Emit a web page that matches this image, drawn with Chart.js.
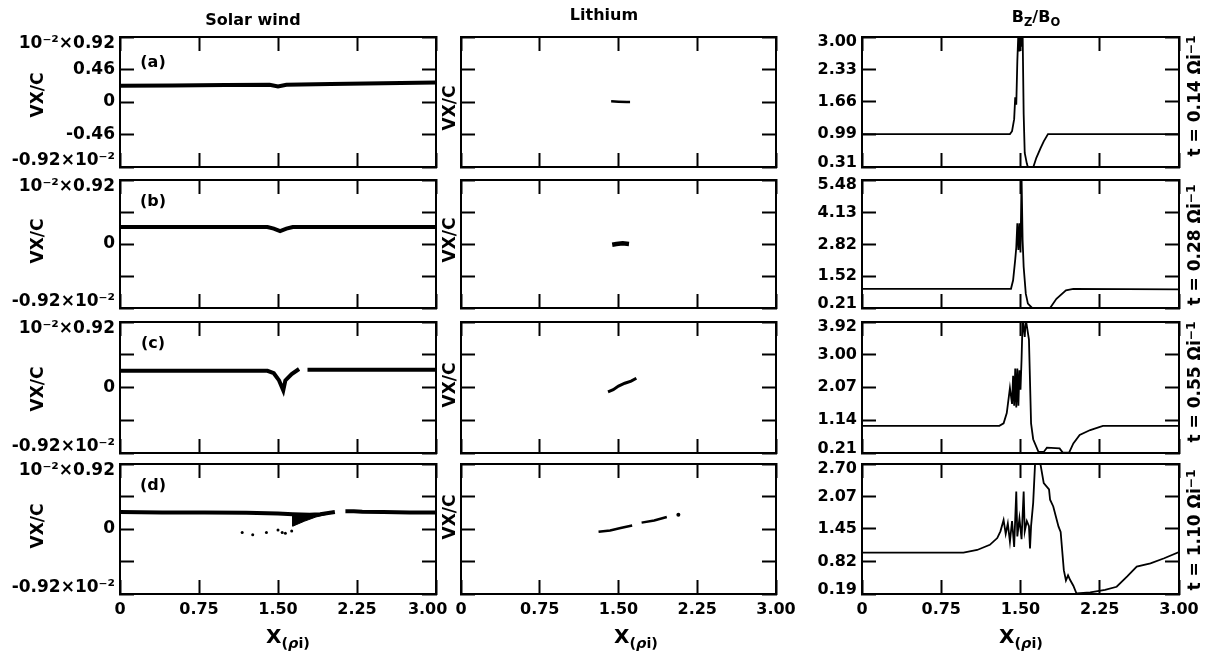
<!DOCTYPE html>
<html>
<head>
<meta charset="utf-8">
<script src="https://cdn.jsdelivr.net/npm/chart.js@4.4.1/dist/chart.umd.min.js"></script>
<style>
  body { margin: 0; background: #fff; }
  #fig { position: relative; width: 1207px; height: 658px; overflow: hidden;
         font-family: "DejaVu Sans", sans-serif; font-weight: bold; color: #000; background: #fff; }
  #fig canvas { position: absolute; }
  .txt { position: absolute; white-space: nowrap; line-height: 1; }
  .ctr { transform: translate(-50%, -50%); }
  .rot { transform: translate(-50%, -50%) rotate(-90deg); }
  sub { font-size: 72%; vertical-align: baseline; position: relative; top: 0.35em; }
  sup { font-size: 72%; vertical-align: baseline; position: relative; top: -0.45em; }
</style>
</head>
<body>
<div id="fig"></div>
<script>
// axis ticks
const xTicks = [0, 0.75, 1.5, 2.25, 3.0];
const xTickLabels = ["0", "0.75", "1.50", "2.25", "3.00"];
const vTicks = [-0.92, -0.46, 0, 0.46, 0.92];
const bTicksA = [0.31, 0.99, 1.66, 2.33, 3.00];
const bTicksB = [0.21, 1.52, 2.82, 4.13, 5.48];
const bTicksC = [0.21, 1.14, 2.07, 3.00, 3.92];
const bTicksD = [0.19, 0.82, 1.45, 2.07, 2.70];
const rowTags = ["(a)", "(b)", "(c)", "(d)"];
const times = ["0.14", "0.28", "0.55", "1.10"];

// solar wind vx/c (units of 1e-2), [x, y]
const windA = [[0, 0.23], [0.5, 0.235], [1.0, 0.24], [1.42, 0.245], [1.5, 0.22], [1.58, 0.245],
  [2.0, 0.255], [2.5, 0.265], [3.0, 0.275]];
const windB = [[0, 0.245], [0.5, 0.245], [1.0, 0.245], [1.40, 0.245], [1.46, 0.22], [1.52, 0.185],
  [1.58, 0.22], [1.64, 0.245], [2.0, 0.245], [2.5, 0.245], [3.0, 0.245]];
const windC = [[0, 0.235], [0.5, 0.235], [1.0, 0.235], [1.40, 0.235], [1.46, 0.20], [1.51, 0.10],
  [1.55, -0.04], [1.57, 0.10], [1.63, 0.19], [1.70, 0.26], [1.74, null], [1.78, 0.25],
  [2.2, 0.25], [2.6, 0.25], [3.0, 0.25]];
const windD = [[0, 0.24], [0.4, 0.235], [0.8, 0.235], [1.2, 0.23], [1.5, 0.22], [1.64, 0.21],
  [1.80, 0.20], [1.90, 0.21], [2.04, 0.24], [2.09, null], [2.14, 0.25], [2.22, 0.25],
  [2.30, 0.245], [2.5, 0.24], [2.75, 0.235], [3.0, 0.235]];
const windDWedge = [[1.64, 0.22], [1.64, 0.04], [1.75, 0.11], [1.86, 0.17], [1.97, 0.21], [1.64, 0.22]];
const windDDots = [[1.16, -0.05], [1.26, -0.08], [1.39, -0.05], [1.50, -0.015], [1.54, -0.05],
  [1.57, -0.06], [1.63, -0.03]];

// lithium vx/c
const liA = [[1.43, 0.01], [1.50, 0.005], [1.58, 0.0], [1.61, 0.0]];
const liB = [[1.44, -0.01], [1.48, 0.0], [1.54, 0.01], [1.60, 0.0]];
const liC = [[1.40, -0.06], [1.45, -0.03], [1.50, 0.02], [1.56, 0.06], [1.62, 0.09], [1.67, 0.13]];
const liD = [[1.31, -0.04], [1.42, -0.02], [1.52, 0.015], [1.63, 0.05], [1.67, null], [1.72, 0.09],
  [1.84, 0.12], [1.96, 0.17]];
const liDDot = [[2.07, 0.20]];

// Bz/Bo
const bzA = [[0, 0.99], [1.40, 0.99], [1.42, 1.05], [1.44, 1.3], [1.45, 1.75], [1.46, 1.6], [1.47, 2.5],
  [1.48, 3.1], [1.49, 2.7], [1.50, 3.1], [1.51, 2.8], [1.52, 3.1], [1.53, 1.4], [1.54, 0.6],
  [1.56, 0.38], [1.57, 0.31], [1.62, 0.30], [1.65, 0.50], [1.69, 0.70], [1.72, 0.84], [1.76, 0.99],
  [3.0, 0.99]];
const bzB = [[0, 1.0], [1.41, 1.0], [1.43, 1.35], [1.45, 2.2], [1.46, 2.7], [1.47, 3.7], [1.48, 2.6],
  [1.49, 3.7], [1.50, 2.5], [1.51, 5.6], [1.52, 3.0], [1.53, 1.9], [1.55, 0.8], [1.57, 0.39],
  [1.61, 0.21], [1.78, 0.21], [1.84, 0.59], [1.93, 0.94], [2.0, 1.0], [3.0, 0.98]];
const bzC = [[0, 0.98], [1.30, 0.98], [1.34, 1.05], [1.37, 1.34], [1.40, 2.05], [1.42, 1.6], [1.43, 2.4],
  [1.44, 1.55], [1.45, 2.6], [1.46, 1.5], [1.47, 2.6], [1.48, 1.55], [1.49, 2.55], [1.50, 2.0],
  [1.51, 2.86], [1.52, 4.0], [1.54, 3.5], [1.55, 4.0], [1.58, 3.42], [1.60, 1.05], [1.62, 0.6],
  [1.67, 0.24], [1.72, 0.24], [1.75, 0.36], [1.87, 0.34], [1.90, 0.22], [1.96, 0.22], [2.0, 0.48],
  [2.06, 0.72], [2.16, 0.86], [2.28, 0.98], [3.0, 0.98]];
const bzD = [[0, 0.99], [0.96, 0.99], [1.09, 1.04], [1.21, 1.14], [1.28, 1.27], [1.31, 1.40],
  [1.34, 1.62], [1.36, 1.35], [1.38, 1.55], [1.40, 1.20], [1.42, 1.60], [1.44, 1.10], [1.46, 2.17],
  [1.47, 1.30], [1.49, 1.65], [1.51, 1.25], [1.53, 2.17], [1.54, 1.40], [1.56, 1.60], [1.58, 1.50],
  [1.59, 1.07], [1.60, 1.50], [1.62, 1.95], [1.64, 2.8], [1.68, 2.8], [1.72, 2.33], [1.77, 2.21],
  [1.78, 2.01], [1.81, 1.88], [1.86, 1.49], [1.88, 1.39], [1.91, 0.65], [1.93, 0.45], [1.95, 0.55],
  [1.97, 0.46], [2.00, 0.35], [2.03, 0.20], [2.16, 0.22], [2.30, 0.27], [2.41, 0.33], [2.51, 0.53],
  [2.60, 0.72], [2.73, 0.78], [2.86, 0.88], [3.0, 1.0]];

// layout of the panels (pixels)
const colX = [120, 461, 862];
const colW = [316, 315, 317];
const rowY = [37, 180, 322, 464];
const rowH = [130, 128, 131, 130];
const L = [120, 40, 60], R = 60, T = 45, B = 50;

const fig = document.getElementById("fig");
const FONT = { family: '"DejaVu Sans", sans-serif', weight: "bold", size: 16 };

const pts = arr => arr.map(([x, y]) => ({ x, y }));
const line = (arr, w) => ({ data: pts(arr), showLine: true, borderColor: "#000", borderWidth: w,
  pointRadius: 0, fill: false, tension: 0 });
const dots = (arr, r) => ({ data: pts(arr), showLine: false, pointRadius: r, borderWidth: 0,
  backgroundColor: "#000" });

function scale(pos, min, max, ticks, size, labels, pad, font) {
  const horiz = pos === "top" || pos === "bottom";
  return {
    type: "linear", position: pos, min, max,
    afterBuildTicks: ax => { ax.ticks = ticks.map(v => ({ value: v })); },
    afterFit: ax => { if (horiz) ax.height = size; else ax.width = size; },
    grid: { drawOnChartArea: false, drawTicks: true, tickLength: -14, tickWidth: 2, tickColor: "#000" },
    border: { display: true, color: "#000", width: 2 },
    ticks: {
      display: !!labels, autoSkip: false, maxRotation: 0, minRotation: 0,
      padding: pad || 0, color: "#000", font: font || FONT,
      callback: (v, i) => labels ? labels[i] : ""
    }
  };
}

function addPanel(c, r, datasets, yMin, yMax, yTicks, yLabels, yFont) {
  const l = L[c];
  const w = colW[c] + l + R, h = rowH[r] + T + B;
  const cv = document.createElement("canvas");
  cv.width = w; cv.height = h;
  cv.style.left = (colX[c] - l) + "px";
  cv.style.top = (rowY[r] - T) + "px";
  cv.style.width = w + "px"; cv.style.height = h + "px";
  fig.appendChild(cv);
  let xl = null;
  if (r === 3) xl = xTickLabels.map((s, i) => (c === 0 && i === 4) ? s + "   " : s);
  new Chart(cv, {
    type: "scatter",
    data: { datasets },
    options: {
      responsive: false, animation: false, devicePixelRatio: 1, events: [],
      layout: { padding: 0 },
      plugins: { legend: { display: false }, tooltip: { enabled: false } },
      scales: {
        x: scale("bottom", 0, 3, xTicks, B, xl, 20),
        x2: scale("top", 0, 3, xTicks, T, null),
        y: scale("left", yMin, yMax, yTicks, l, yLabels, 19, yFont),
        y2: scale("right", yMin, yMax, yTicks, R, null)
      }
    }
  });
}

// end labels are pushed inward with a blank line
const inward = labels => labels.map((s, i) =>
  i === 0 ? [s, ""] : i === labels.length - 1 ? ["", s] : s);

const vLabelsFull = inward(["-0.92×10⁻²", "-0.46", "0", "0.46", "10⁻²×0.92"]);
const vLabelsShort = inward(["-0.92×10⁻²", "", "0", "", "10⁻²×0.92"]);
const vFont = Object.assign({}, FONT, { size: 17, lineHeight: 0.8 });
const bFont = Object.assign({}, FONT, { lineHeight: 0.55 });

addPanel(0, 0, [line(windA, 4)], -0.92, 0.92, vTicks, vLabelsFull, vFont);
addPanel(0, 1, [line(windB, 4)], -0.92, 0.92, vTicks, vLabelsShort, vFont);
addPanel(0, 2, [line(windC, 4)], -0.92, 0.92, vTicks, vLabelsShort, vFont);
addPanel(0, 3, [line(windD, 4), Object.assign(line(windDWedge, 1), { fill: "shape", backgroundColor: "#000" }),
  dots(windDDots, 1.5)], -0.92, 0.92, vTicks, vLabelsShort, vFont);

addPanel(1, 0, [line(liA, 2.5)], -0.92, 0.92, vTicks, null);
addPanel(1, 1, [line(liB, 4.5)], -0.92, 0.92, vTicks, null);
addPanel(1, 2, [line(liC, 3)], -0.92, 0.92, vTicks, null);
addPanel(1, 3, [line(liD, 2.5), dots(liDDot, 2)], -0.92, 0.92, vTicks, null);

const bSets = [[bzA, bTicksA], [bzB, bTicksB], [bzC, bTicksC], [bzD, bTicksD]];
bSets.forEach(([d, tk], r) => {
  addPanel(2, r, [line(d, 1.8)], tk[0], tk[tk.length - 1], tk,
    inward(tk.map(v => v.toFixed(2))), bFont);
});

// text overlays
function addText(html, x, y, size, cls) {
  const d = document.createElement("div");
  d.className = "txt " + cls;
  d.style.left = x + "px"; d.style.top = y + "px"; d.style.fontSize = size + "px";
  d.innerHTML = html;
  fig.appendChild(d);
}

addText("Solar wind", 253, 20, 16, "ctr");
addText("Lithium", 604, 15, 16, "ctr");
addText("B<sub>Z</sub>/B<sub>O</sub>", 1036, 17, 16, "ctr");

const tagY = [62, 201, 343, 485];
const vLeftY = [95, 241, 389, 526];
const vMidY = [108, 240, 385, 517];
const tRightY = [96, 245, 382, 530];
rowTags.forEach((t, r) => {
  addText(t, 153, tagY[r], 16, "ctr");
  addText("VX/C", 37, vLeftY[r], 17, "rot");
  addText("VX/C", 449, vMidY[r], 17, "rot");
  addText("t = " + times[r] + " Ωi<sup>−1</sup>", 1194, tRightY[r], 17, "rot");
});

[288, 636, 1021].forEach(x => addText("X<sub>(<i>ρ</i>i)</sub>", x, 636, 20, "ctr"));
</script>
</body>
</html>
